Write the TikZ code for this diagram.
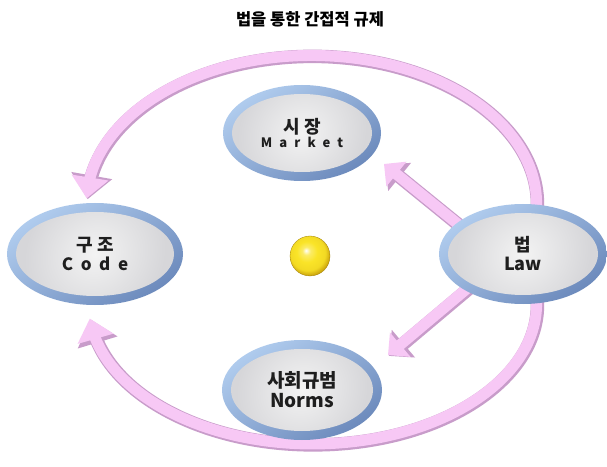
\documentclass[tikz,border=0pt]{standalone}
\usepackage{fontspec}
\setmainfont{Noto Sans CJK KR}
\usetikzlibrary{shapes.geometric,arrows.meta,bending,calc}
\definecolor{pinkL}{RGB}{247,200,245}
\definecolor{pinkD}{RGB}{200,156,202}
\definecolor{blueL}{RGB}{176,204,238}
\definecolor{blueD}{RGB}{108,138,188}
\definecolor{grayL}{RGB}{243,243,243}
\definecolor{grayD}{RGB}{214,214,217}
\definecolor{txtc}{RGB}{30,30,30}
\definecolor{ballY}{RGB}{250,228,40}
\definecolor{ballO}{RGB}{200,160,10}
\pgfdeclareradialshading{yball}{\pgfpoint{-5bp}{7bp}}{%
  color(0bp)=(white); color(5bp)=(ballY!70!white); color(13bp)=(ballY);
  color(22bp)=(ballY!85!ballO); color(28bp)=(ballO); color(50bp)=(ballO)}
\pgfdeclarelayer{bg}
\pgfsetlayers{bg,main}
\newcommand\fatarrow[1]{%
  \draw[fatsh] #1;
  \draw[fat] #1;}
\tikzset{
  fatsh/.style={line width=13.5pt, draw=pinkD, -{Triangle[width=40pt,length=24pt]},
    transform canvas={shift={(0.9pt,-0.9pt)}}},
  fat/.style={line width=11pt, draw=pinkL, -{Triangle[width=36pt,length=21pt]}},
  fatshs/.style={line width=13.5pt, draw=pinkD, -{Triangle[width=35pt,length=19pt]},
    transform canvas={shift={(0.9pt,-0.9pt)}}},
  fats/.style={line width=11pt, draw=pinkL, -{Triangle[width=31pt,length=16pt]}},
  ring/.style={ellipse, inner sep=0pt, align=center, text=txtc, font=\bfseries,
    top color=blueL, bottom color=blueD, shading angle=35,
    path picture={
      \shade[inner color=grayL, outer color=grayD]
        let \p1=(path picture bounding box.north east),
            \p2=(path picture bounding box.center) in
        (\p2) ellipse [x radius={\x1-\x2-9pt}, y radius={\y1-\y2-9pt}];
    }},
}
\begin{document}
\begin{tikzpicture}[x=1pt,y=1pt]
\useasboundingbox (0,0) rectangle (607,466);

\node[font=\bfseries\fontsize{16.5}{18}\selectfont, text=black] (title) at (310,447) {법을 통한 간접적 규제};

\node[ring, minimum width=158pt, minimum height=96pt] (market) at (302,333)
  {{\fontsize{18}{20}\selectfont 시 장}\\[1pt]{\fontsize{13}{15}\selectfont\addfontfeature{LetterSpace=55}Market}};
\node[ring, minimum width=176pt, minimum height=102pt] (code) at (95,212)
  {{\fontsize{18}{20}\selectfont 구 조}\\[2pt]{\fontsize{17}{19}\selectfont\addfontfeature{LetterSpace=45}Code}};
\node[ring, minimum width=168pt, minimum height=100pt] (law) at (523,212)
  {{\fontsize{18}{20}\selectfont 법}\\[3pt]{\fontsize{18}{20}\selectfont Law}};
\node[ring, minimum width=160pt, minimum height=100pt] (norms) at (302,76)
  {{\fontsize{19}{21}\selectfont 사회규범}\\[3pt]{\fontsize{19}{21}\selectfont Norms}};

\node[circle, minimum size=40pt, inner sep=0pt, shading=yball, draw=ballO!80!black, line width=0.3pt] (ball) at (310,210) {};

\coordinate (mtip) at (384,302);
\coordinate (ntip) at (388,111);

\begin{pgfonlayer}{bg}
  \fill[white] (0,0) rectangle (607,466);
  \fatarrow{([xshift=13pt,yshift=-10pt]law.north) arc[start angle=-4, end angle=178, x radius=225pt, y radius=148pt]}
  \fatarrow{([xshift=13pt,yshift=10pt]law.south) arc[start angle=4, end angle=-174, x radius=224pt, y radius=140pt]}
  \draw[fatshs, shorten <=-12pt] (law.155) -- (mtip);
  \draw[fats, shorten <=-12pt] (law.155) -- (mtip);
  \draw[fatshs, shorten <=-12pt] (law.212) -- (ntip);
  \draw[fats, shorten <=-12pt] (law.212) -- (ntip);
\end{pgfonlayer}
\end{tikzpicture}
\end{document}
